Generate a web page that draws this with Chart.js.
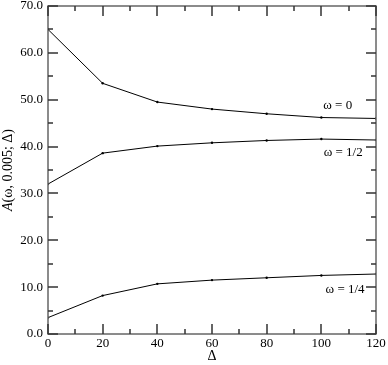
<!DOCTYPE html>
<html>
<head>
<meta charset="utf-8">
<script src="https://cdn.jsdelivr.net/npm/chart.js@4/dist/chart.umd.min.js"></script>
<style>
  html, body { margin: 0; padding: 0; background: #fff; }
  #wrap { width: 388px; height: 365px; }
</style>
</head>
<body>
<div id="wrap"><canvas id="chart" width="388" height="365"></canvas></div>
<script>
var deltas = [0, 20, 40, 60, 80, 100, 120];
var omega0 = [65.0, 53.5, 49.5, 48.0, 47.0, 46.2, 46.0];
var omegaHalf = [32.0, 38.6, 40.1, 40.8, 41.3, 41.6, 41.4];
var omegaQuarter = [3.5, 8.2, 10.7, 11.5, 12.0, 12.5, 12.8];

var curveLabels = ['\u03c9 = 0', '\u03c9 = 1/2', '\u03c9 = 1/4'];
var labelAt = [[106, 48.7], [108, 38.8], [108.7, 9.4]];

var xTicks = [0, 10, 20, 30, 40, 50, 60, 70, 80, 90, 100, 110, 120];
var yTicks = [0, 5, 10, 15, 20, 25, 30, 35, 40, 45, 50, 55, 60, 65, 70];

var FONT = '"Liberation Serif", "DejaVu Serif", serif';

function points(ys) {
  return deltas.map(function(x, i) { return { x: x, y: ys[i] }; });
}

function series(label, ys) {
  return {
    label: label,
    data: points(ys),
    borderColor: '#000',
    backgroundColor: '#000',
    borderWidth: 1,
    pointRadius: 1.2,
    pointHoverRadius: 1.2,
    pointBorderWidth: 0,
    tension: 0
  };
}

// box on all four sides with inward ticks, curve labels, y title with italic A
var frame = {
  id: 'frame',
  afterDraw: function(chart) {
    var c = chart.ctx, a = chart.chartArea;
    var xs = chart.scales.x, ys = chart.scales.y;
    c.save();
    c.strokeStyle = '#666';
    c.lineWidth = 1.5;
    c.strokeRect(a.left, a.top, a.right - a.left, a.bottom - a.top);
    c.strokeStyle = '#333';
    xTicks.forEach(function(v) {
      var px = Math.round(xs.getPixelForValue(v));
      var len = v % 20 === 0 ? 10 : 5;
      c.beginPath();
      c.moveTo(px, a.bottom); c.lineTo(px, a.bottom - len);
      c.moveTo(px, a.top); c.lineTo(px, a.top + len);
      c.stroke();
    });
    yTicks.forEach(function(w) {
      var py = Math.round(ys.getPixelForValue(w));
      var len = w % 10 === 0 ? 10 : 5;
      c.beginPath();
      c.moveTo(a.left, py); c.lineTo(a.left + len, py);
      c.moveTo(a.right, py); c.lineTo(a.right - len, py);
      c.stroke();
    });

    c.fillStyle = '#000';
    c.font = '13px ' + FONT;
    c.textAlign = 'center';
    c.textBaseline = 'middle';
    curveLabels.forEach(function(t, i) {
      c.fillText(t, xs.getPixelForValue(labelAt[i][0]), ys.getPixelForValue(labelAt[i][1]));
    });

    // y axis title
    c.translate(8, (a.top + a.bottom) / 2);
    c.rotate(-Math.PI / 2);
    var italic = 'italic 14px ' + FONT, plain = '14px ' + FONT;
    var rest = '(\u03c9, 0.005; \u0394)';
    c.font = italic; var wa = c.measureText('A').width;
    c.font = plain; var wr = c.measureText(rest).width;
    var x0 = -(wa + wr) / 2;
    c.textAlign = 'left';
    c.font = italic; c.fillText('A', x0, 0);
    c.font = plain; c.fillText(rest, x0 + wa, 0);
    c.restore();
  }
};

new Chart(document.getElementById('chart'), {
  type: 'line',
  data: {
    datasets: [
      series(curveLabels[0], omega0),
      series(curveLabels[1], omegaHalf),
      series(curveLabels[2], omegaQuarter)
    ]
  },
  options: {
    responsive: false,
    animation: false,
    layout: { padding: { top: 6, right: 12, left: 0, bottom: 0 } },
    plugins: { legend: { display: false }, tooltip: { enabled: false } },
    scales: {
      x: {
        type: 'linear',
        min: 0, max: 120,
        grid: { display: false, drawTicks: false },
        border: { display: false },
        ticks: { stepSize: 20, color: '#000', padding: 2, maxRotation: 0,
                 font: { family: FONT, size: 13 } },
        title: { display: true, text: '\u0394', color: '#000', padding: 0,
                 font: { family: FONT, size: 14 } },
        afterFit: function(s) { s.height = 31; s.paddingLeft = 0; s.paddingRight = 0; }
      },
      y: {
        min: 0, max: 70,
        grid: { display: false, drawTicks: false },
        border: { display: false },
        ticks: { stepSize: 10, color: '#000', padding: 5,
                 font: { family: FONT, size: 13 },
                 callback: function(v) { return v.toFixed(1); } },
        afterFit: function(s) { s.width = 48; s.paddingTop = 0; s.paddingBottom = 0; }
      }
    }
  },
  plugins: [frame]
});
</script>
</body>
</html>
